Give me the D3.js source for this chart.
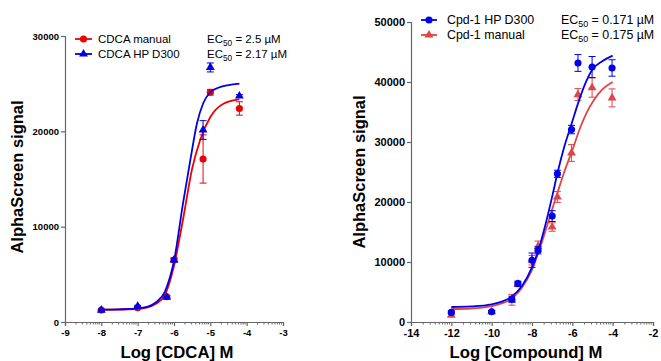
<!DOCTYPE html>
<html>
<head>
<meta charset="utf-8">
<script src="https://cdn.jsdelivr.net/npm/d3@7"></script>
<style>
  html, body { margin: 0; padding: 0; background: #fff; }
  svg { display: block; }
  text { font-family: "Liberation Sans", Arial, sans-serif; }
</style>
</head>
<body>
<svg id="chart" width="661" height="361"></svg>
<script>
// ---------- Left panel data (CDCA) ----------
const leftX = [-8, -7, -6.2, -6, -5.2, -5, -4.2];
const leftManualY   = [1250, 1500, 2650, 6500, 17100, 24100, 22400];
const leftManualErr = [80, 100, 120, 200, 2530, 300, 700];
const leftD300Y     = [1250, 1650, 2600, 6500, 20140, 26700, 23700];
const leftD300Err   = [80, 100, 120, 200, 980, 470, 150];
const leftManualCurveX = [-8, -7.5, -7, -6.75, -6.5, -6.25, -6, -5.75, -5.5, -5.28, -5.0, -4.64, -4.2];
const leftManualCurveY = [1300, 1310, 1380, 1500, 1900, 2850, 5900, 10800, 16100, 19100, 21500, 22900, 23350];
const leftD300CurveX = [-8, -7.5, -7, -6.75, -6.5, -6.25, -6, -5.75, -5.55, -5.37, -5.19, -5.0, -4.8, -4.5, -4.2];
const leftD300CurveY = [1300, 1330, 1420, 1580, 2050, 3200, 6400, 12500, 17000, 20800, 23000, 24100, 24550, 24850, 25000];
const leftXTicks = [-9, -8, -7, -6, -5, -4, -3];
const leftYTicks = [0, 10000, 20000, 30000];
const leftLegend = ["CDCA manual", "CDCA HP D300"];
const leftEC50 = ["2.5", "2.17"];

// ---------- Right panel data (Cpd-1) ----------
const rightX = [-12, -10, -9, -8.7, -8, -7.7, -7, -6.74, -6.04, -5.72, -5.02, -4.03];
const rightD300Y     = [1600, 1700, 3800, 6400, 10300, 11950, 17650, 24700, 32070, 43170, 42500, 42340];
const rightD300Err   = [250, 200, 500, 400, 1200, 600, 900, 600, 700, 1400, 1750, 1370];
const rightManualY   = [1150, 1700, 3700, 6300, 10300, 12600, 15830, 20830, 28170, 37900, 39070, 37350];
const rightManualErr = [250, 200, 900, 400, 800, 900, 700, 900, 1400, 1000, 1600, 1500];
const rightD300CurveX = [-12, -11, -10, -9.5, -9, -8.5, -8, -7.7, -7.35, -7, -6.71, -6.4, -6.04, -5.7, -5.35, -5.02, -4.5, -4];
const rightD300CurveY = [2500, 2600, 2950, 3400, 4250, 6000, 9100, 11800, 16000, 20900, 25200, 29200, 33000, 36600, 39800, 42000, 43500, 44400];
const rightManualCurveX = [-12, -11, -10, -9.5, -9, -8.5, -8, -7.7, -7.35, -7, -6.75, -6.4, -5.96, -5.63, -5.3, -4.97, -4.5, -4];
const rightManualCurveY = [2170, 2250, 2650, 3100, 3900, 5700, 8700, 11400, 15000, 18800, 21400, 25000, 29000, 32200, 34800, 36800, 38800, 40000];
const rightXTicks = [-14, -12, -10, -8, -6, -4, -2];
const rightYTicks = [0, 10000, 20000, 30000, 40000, 50000];
const rightLegend = ["Cpd-1 HP D300", "Cpd-1 manual"];
const rightEC50 = ["0.171", "0.175"];

const svg = d3.select("#chart");
const AXIS = "#666";

function drawPanel(p) {
  const g = svg.append("g");
  const x = d3.scaleLinear().domain(p.xDomain).range([p.left, p.right]);
  const y = d3.scaleLinear().domain(p.yDomain).range([p.bottom, p.top]);

  // X axis
  const xAxis = d3.axisBottom(x).tickValues(p.xTicks).tickSize(4).tickPadding(3)
    .tickFormat(d => String(d).replace("\u2212", "-"));
  const gx = g.append("g").attr("transform", `translate(0,${p.bottom})`).call(xAxis);
  gx.select(".domain").attr("stroke", AXIS).attr("stroke-width", 1.2);
  gx.selectAll(".tick line").attr("stroke", AXIS).attr("stroke-width", 1.2);
  gx.selectAll(".tick text").attr("fill", "#000").attr("font-weight", "bold")
    .attr("font-size", p.tickFont).attr("font-family", "Liberation Sans, Arial, sans-serif");
  // minor ticks (log-spaced within each major interval)
  const minors = [];
  for (let i = 0; i < p.xTicks.length - 1; i++) {
    const a = p.xTicks[i], b = p.xTicks[i + 1];
    for (let k = 2; k <= 9; k++) minors.push(a + (b - a) * Math.log10(k));
  }
  g.append("g").selectAll("line").data(minors).join("line")
    .attr("x1", d => x(d)).attr("x2", d => x(d))
    .attr("y1", p.bottom).attr("y2", p.bottom + 2.5)
    .attr("stroke", AXIS).attr("stroke-width", 1);

  // Y axis
  const yAxis = d3.axisLeft(y).tickValues(p.yTicks).tickSize(4).tickPadding(2)
    .tickFormat(d3.format("d"));
  const gy = g.append("g").attr("transform", `translate(${p.left},0)`).call(yAxis);
  gy.select(".domain").attr("stroke", AXIS).attr("stroke-width", 1.2);
  gy.selectAll(".tick line").attr("stroke", AXIS).attr("stroke-width", 1.2);
  gy.selectAll(".tick text").attr("fill", "#000").attr("font-weight", "bold")
    .attr("font-size", p.tickFont).attr("font-family", "Liberation Sans, Arial, sans-serif");

  // Axis titles
  g.append("text").attr("x", p.xTitleX).attr("y", 358).attr("text-anchor", "middle")
    .attr("font-weight", "bold").attr("font-size", 16.7).text(p.xTitle);
  g.append("text").attr("transform", `translate(${p.yTitleX},${p.yTitleY}) rotate(-90)`)
    .attr("text-anchor", "middle").attr("font-weight", "bold").attr("font-size", 16.5)
    .text("AlphaScreen signal");

  const line = d3.line().x(d => x(d[0])).y(d => y(d[1])).curve(d3.curveMonotoneX);

  p.series.forEach(s => {
    const sg = g.append("g");
    // curve
    sg.append("path").datum(d3.zip(s.curveX, s.curveY)).attr("d", line)
      .attr("fill", "none").attr("stroke", s.color).attr("stroke-width", 1.8);
    // error bars
    const pts = p.xs.map((xv, i) => ({x: xv, y: s.y[i], e: s.err[i]}));
    const eb = sg.append("g").attr("stroke", s.color).attr("stroke-width", 1);
    eb.selectAll("line.v").data(pts).join("line").attr("class", "v")
      .attr("x1", d => x(d.x)).attr("x2", d => x(d.x))
      .attr("y1", d => y(d.y - d.e)).attr("y2", d => y(d.y + d.e));
    eb.selectAll("line.t").data(pts).join("line").attr("class", "t")
      .attr("x1", d => x(d.x) - 3.5).attr("x2", d => x(d.x) + 3.5)
      .attr("y1", d => y(d.y + d.e)).attr("y2", d => y(d.y + d.e));
    eb.selectAll("line.b").data(pts).join("line").attr("class", "b")
      .attr("x1", d => x(d.x) - 3.5).attr("x2", d => x(d.x) + 3.5)
      .attr("y1", d => y(d.y - d.e)).attr("y2", d => y(d.y - d.e));
    s.pts = pts; s.g = sg;
  });
  p.series.forEach(s => {
    const sym = d3.symbol().type(s.shape === "circle" ? d3.symbolCircle : d3.symbolTriangle)
      .size(s.shape === "circle" ? 40 : 34);
    s.g.append("g").selectAll("path").data(s.pts).join("path")
      .attr("transform", d => `translate(${x(d.x)},${y(d.y)})`)
      .attr("d", sym).attr("fill", s.color);
  });

  // Legend
  p.legend.forEach((L, i) => {
    const s = p.series[L.idx];
    const ly = p.legY + i * p.legDy;
    g.append("line").attr("x1", p.legX).attr("x2", p.legX + p.legLen)
      .attr("y1", ly).attr("y2", ly).attr("stroke", s.color).attr("stroke-width", 1.8);
    const sym = d3.symbol().type(s.shape === "circle" ? d3.symbolCircle : d3.symbolTriangle)
      .size(s.shape === "circle" ? 40 : 34);
    g.append("path").attr("transform", `translate(${p.legX + p.legLen / 2},${ly})`)
      .attr("d", sym).attr("fill", s.color);
    g.append("text").attr("x", p.legTextX).attr("y", ly + p.legFont * 0.36)
      .attr("font-size", p.legFont).attr("fill", "#000").text(L.label);
    const t = g.append("text").attr("x", p.ecX).attr("y", ly + p.legFont * 0.36)
      .attr("font-size", p.legFont).attr("fill", "#000");
    t.append("tspan").text("EC");
    t.append("tspan").attr("font-size", p.legFont * 0.72).attr("dy", 3).text("50");
    t.append("tspan").attr("dy", -3).text(" = " + L.ec + " \u00B5M");
  });
}

drawPanel({
  xDomain: [-9, -3], yDomain: [0, 30000],
  left: 65, right: 283, top: 36, bottom: 322,
  xTicks: leftXTicks, yTicks: leftYTicks, tickFont: 9.5,
  xTitle: "Log [CDCA] M", xTitleX: 177, yTitleX: 23, yTitleY: 177,
  xs: leftX,
  series: [
    {color: "#ee0000", shape: "circle", y: leftManualY, err: leftManualErr,
     curveX: leftManualCurveX, curveY: leftManualCurveY},
    {color: "#0000e6", shape: "triangle", y: leftD300Y, err: leftD300Err,
     curveX: leftD300CurveX, curveY: leftD300CurveY}
  ],
  legend: [{idx: 0, label: leftLegend[0], ec: leftEC50[0]},
           {idx: 1, label: leftLegend[1], ec: leftEC50[1]}],
  legX: 75, legLen: 17, legY: 39, legDy: 15, legTextX: 98, legFont: 11.5, ecX: 207
});

drawPanel({
  xDomain: [-14, -2], yDomain: [0, 50000],
  left: 411, right: 653, top: 22, bottom: 322,
  xTicks: rightXTicks, yTicks: rightYTicks, tickFont: 11,
  xTitle: "Log [Compound] M", xTitleX: 526, yTitleX: 365, yTitleY: 172,
  xs: rightX,
  series: [
    {color: "#e04545", shape: "triangle", y: rightManualY, err: rightManualErr,
     curveX: rightManualCurveX, curveY: rightManualCurveY},
    {color: "#0000ee", shape: "circle", y: rightD300Y, err: rightD300Err,
     curveX: rightD300CurveX, curveY: rightD300CurveY}
  ],
  legend: [{idx: 1, label: rightLegend[0], ec: rightEC50[0]},
           {idx: 0, label: rightLegend[1], ec: rightEC50[1]}],
  legX: 421, legLen: 16, legY: 20, legDy: 15, legTextX: 447, legFont: 12.4, ecX: 561
});
</script>
</body>
</html>
